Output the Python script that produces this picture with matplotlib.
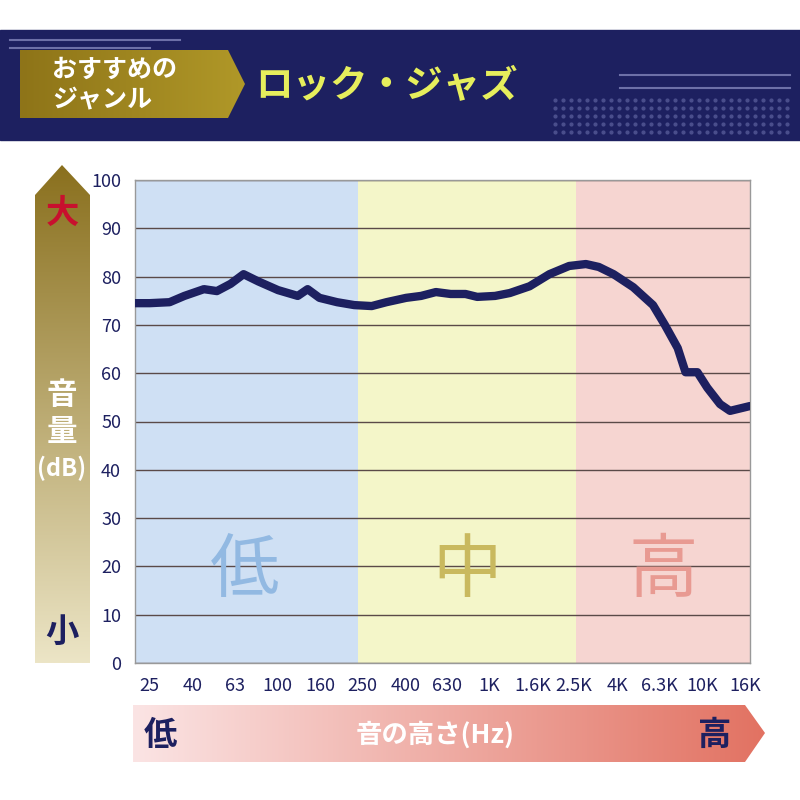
import numpy as np
import matplotlib
matplotlib.use("Agg")
import matplotlib.pyplot as plt
from matplotlib.patches import Polygon, Rectangle
from matplotlib.colors import LinearSegmentedColormap

plt.rcParams['font.family'] = ['Noto Sans CJK JP', 'DejaVu Sans']

# ---- data ----
freqs = [21.3, 25, 31, 36.4, 45, 51.8, 60.1, 69.2, 81.2, 100.6, 124.6, 138.7, 157.7, 191, 230,
         278, 326, 404, 475, 558, 655, 769, 874, 1061, 1245, 1543, 1912, 2370, 2842, 3268,
         3837, 4753, 5888, 6697, 7699, 8380, 9530, 10610, 12190, 13580, 16870]
levels = [74.5, 74.5, 74.7, 76, 77.4, 77, 78.5, 80.5, 79, 77.2, 76, 77.4, 75.6, 74.7, 74.1,
          73.9, 74.7, 75.6, 76, 76.8, 76.4, 76.4, 75.8, 76, 76.6, 78, 80.5, 82.2, 82.6, 82,
          80.5, 77.8, 74.1, 70, 65.2, 60.2, 60.2, 57, 53.6, 52.2, 53.2]
tick_freqs = [25, 40, 63, 100, 160, 250, 400, 630, 1000, 1600, 2500, 4000, 6300, 10000, 16000]
tick_labels = ['25', '40', '63', '100', '160', '250', '400', '630', '1K', '1.6K', '2.5K', '4K', '6.3K', '10K', '16K']
bands = [(21.3, 240, '#cfe0f4', '低', '#92b9e2'),
         (240, 2560, '#f4f6c9', '中', '#c9b95e'),
         (2560, 16870, '#f6d5d1', '高', '#e89a92')]

NAVY = '#1d2060'
fig = plt.figure(figsize=(8, 8), dpi=100)

ov = fig.add_axes([0, 0, 1, 1])
ov.set_xlim(0, 800); ov.set_ylim(800, 0); ov.axis('off')

ov.add_patch(Rectangle((0, 30), 800, 110, color=NAVY, zorder=1))
for y, x0, x1 in [(40, 10, 180), (48, 10, 150)]:
    ov.plot([x0, x1], [y, y], color='#6d70a8', lw=1.5, zorder=2)
for y in [75, 88]:
    ov.plot([620, 790], [y, y], color='#6d70a8', lw=1.5, zorder=2)
xs, ys = np.meshgrid(np.arange(555, 795, 8), np.arange(100, 135, 8))
ov.scatter(xs.ravel(), ys.ravel(), s=4, color='#4a4e8c', zorder=2)

def grad_poly(pts, c0, c1, horizontal):
    poly = Polygon(pts, closed=True, facecolor='none', edgecolor='none', zorder=3)
    ov.add_patch(poly)
    xsv = [p[0] for p in pts]; ysv = [p[1] for p in pts]
    cmap = LinearSegmentedColormap.from_list('g', [c0, c1])
    g = np.linspace(0, 1, 256)
    img = g[None, :] if horizontal else g[:, None]
    im = ov.imshow(img, cmap=cmap, extent=[min(xsv), max(xsv), max(ysv), min(ysv)],
                   aspect='auto', zorder=3, interpolation='bilinear')
    im.set_clip_path(poly)

grad_poly([(20, 50), (228, 50), (245, 84), (228, 118), (20, 118)], '#8e7418', '#b09828', True)
ov.text(52, 70, 'おすすめの', color='white', fontsize=18, weight='bold', ha='left', va='center', zorder=5)
ov.text(52, 100, 'ジャンル', color='white', fontsize=18, weight='bold', ha='left', va='center', zorder=5)
ov.text(255, 86, 'ロック・ジャズ', color='#e6ee5c', fontsize=27, weight='bold', ha='left', va='center', zorder=5)

grad_poly([(35, 195), (62, 165), (90, 195), (90, 663), (35, 663)], '#8a701e', '#ece5c6', False)
ov.text(62, 213, '大', color='#c8102e', fontsize=24, weight='bold', ha='center', va='center', zorder=5)
ov.text(62, 632, '小', color=NAVY, fontsize=24, weight='bold', ha='center', va='center', zorder=5)
ov.text(62, 395, '音', color='white', fontsize=22, weight='bold', ha='center', va='center', zorder=5)
ov.text(62, 432, '量', color='white', fontsize=22, weight='bold', ha='center', va='center', zorder=5)
ov.text(62, 468, '(dB)', color='white', fontsize=17, weight='bold', ha='center', va='center', zorder=5)

grad_poly([(133, 705), (745, 705), (765, 733), (745, 762), (133, 762)], '#fbe4e4', '#e27262', True)
ov.text(160, 735, '低', color=NAVY, fontsize=24, weight='bold', ha='center', va='center', zorder=5)
ov.text(715, 735, '高', color=NAVY, fontsize=24, weight='bold', ha='center', va='center', zorder=5)
ov.text(435, 735, '音の高さ(Hz)', color='white', fontsize=19, weight='bold', ha='center', va='center', zorder=5)

ax = fig.add_axes([135/800, 1-663/800, 615/800, 483/800])
ax.set_xscale('log')
ax.set_xlim(21.3, 16870)
ax.set_ylim(0, 100)
for lo, hi, c, lab, lc in bands:
    ax.axvspan(lo, hi, color=c, zorder=0, lw=0)
    ax.text(np.sqrt(lo*hi) if lab != '低' else 70, 19, lab, color=lc, fontsize=50,
            ha='center', va='center', zorder=1)
ax.set_yticks(range(0, 101, 10))
ax.grid(axis='y', color='#5a4a48', lw=1.0, zorder=1)
ax.set_axisbelow(True)
ax.plot(freqs, levels, color=NAVY, lw=6, solid_capstyle='round', solid_joinstyle='round', zorder=4)
ax.set_xticks(tick_freqs)
ax.set_xticklabels(tick_labels)
ax.xaxis.set_minor_locator(matplotlib.ticker.NullLocator())
ax.tick_params(length=0, labelsize=13, colors=NAVY, pad=10)
for s in ax.spines.values():
    s.set_color('#999999'); s.set_linewidth(1)

fig.savefig('out.png', dpi=100)
